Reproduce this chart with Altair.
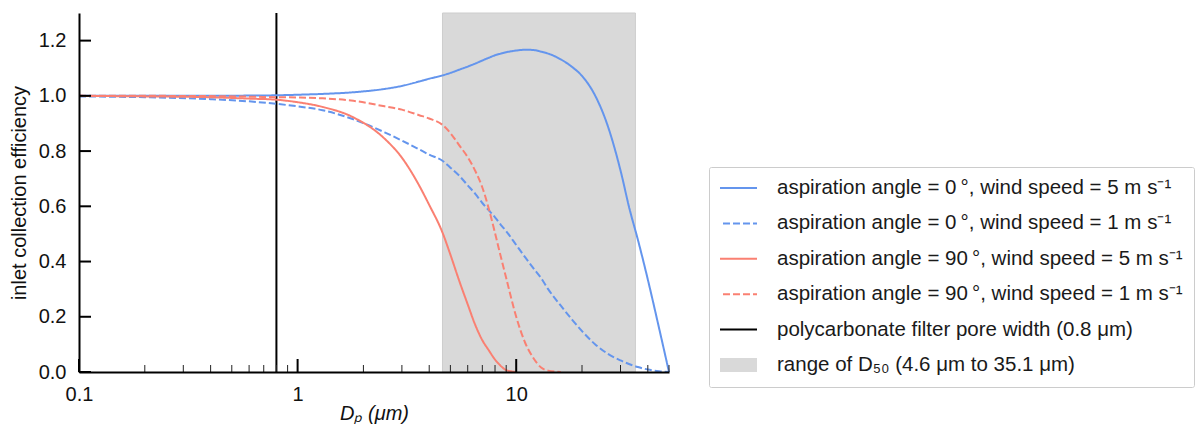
import altair as alt
import pandas as pd

FONT = "Liberation Sans"
FS = 20

# particle diameter grid (µm)
dp = [0.1, 0.2, 0.4, 0.6, 0.8, 1.0, 1.3, 1.8, 2.5, 3.0, 3.6, 4.0, 4.6, 5.0, 5.5, 6.0,
      6.5, 7.0, 7.5, 8.0, 8.5, 9.0, 10, 11, 12, 13, 14, 16, 18, 20, 23, 26, 30, 33,
      36, 40, 45, 50]

# aspiration angle 0°, wind 5 m/s
eff_0_5 = [1.000, 1.000, 1.000, 1.001, 1.002, 1.004, 1.007, 1.013, 1.025, 1.036, 1.052,
           1.062, 1.074, 1.083, 1.095, 1.106, 1.117, 1.128, 1.138, 1.147, 1.153, 1.158,
           1.164, 1.167, 1.166, 1.160, 1.153, 1.132, 1.105, 1.072, 1.000, 0.900, 0.730,
           0.590, 0.480, 0.335, 0.160, 0.000]
# aspiration angle 0°, wind 1 m/s
eff_0_1 = [0.998, 0.995, 0.988, 0.980, 0.971, 0.962, 0.948, 0.915, 0.868, 0.838, 0.806,
           0.787, 0.765, 0.740, 0.710, 0.676, 0.645, 0.612, 0.585, 0.560, 0.533, 0.510,
           0.460, 0.415, 0.375, 0.340, 0.300, 0.240, 0.190, 0.148, 0.100, 0.068, 0.042,
           0.028, 0.018, 0.009, 0.003, 0.000]
# aspiration angle 90°, wind 5 m/s
eff_90_5 = [1.000, 0.998, 0.995, 0.990, 0.986, 0.977, 0.960, 0.922, 0.845, 0.776, 0.675,
            0.605, 0.505, 0.425, 0.328, 0.245, 0.170, 0.115, 0.078, 0.045, 0.022, 0.007,
            0.000, 0.000, 0.000, 0.000, 0.000, 0.000, 0.000, 0.000, 0.000, 0.000, 0.000,
            0.000, 0.000, 0.000, 0.000, 0.000]
# aspiration angle 90°, wind 1 m/s
eff_90_1 = [1.000, 1.000, 0.999, 0.997, 0.995, 0.994, 0.991, 0.982, 0.962, 0.950, 0.930,
            0.918, 0.895, 0.865, 0.820, 0.778, 0.728, 0.668, 0.590, 0.503, 0.418, 0.340,
            0.200, 0.105, 0.050, 0.016, 0.005, 0.000, 0.000, 0.000, 0.000, 0.000, 0.000,
            0.000, 0.000, 0.000, 0.000, 0.000]

pore_width = 0.8
d50_range = [4.6, 35.1]

labels = [
    "aspiration angle = 0\u2009°, wind speed = 5 m s⁻¹",
    "aspiration angle = 0\u2009°, wind speed = 1 m s⁻¹",
    "aspiration angle = 90\u2009°, wind speed = 5 m s⁻¹",
    "aspiration angle = 90\u2009°, wind speed = 1 m s⁻¹",
    "polycarbonate filter pore width (0.8 μm)",
    "range of D₅₀ (4.6 μm to 35.1 μm)",
]
colors = ["#6495ED", "#6495ED", "#FA8072", "#FA8072", "#000000", "#D9D9D9"]
dashes = [[1, 0], [7, 3], [1, 0], [7, 3], [1, 0], [1, 0]]

x_major_ticks = [0.1, 1, 10]
x_minor_ticks = [0.2, 0.3, 0.4, 0.5, 0.6, 0.7, 0.8, 0.9, 2, 3, 4, 5, 6, 7, 8, 9,
                 20, 30, 40, 50]
y_ticks = [0.0, 0.2, 0.4, 0.6, 0.8, 1.0, 1.2]

rows = []
for name, vals in zip(labels[:4], [eff_0_5, eff_0_1, eff_90_5, eff_90_1]):
    for d, v in zip(dp, vals):
        rows.append({"dp": d, "eff": v, "series": name})
        if v == 0:
            break
df_lines = pd.DataFrame(rows)
df_rule = pd.DataFrame({"dp": [pore_width], "series": [labels[4]]})
df_rect = pd.DataFrame({"lo": [d50_range[0]], "hi": [d50_range[1]], "series": [labels[5]]})
df_xmaj = pd.DataFrame({"t": x_major_ticks})
df_xmin = pd.DataFrame({"t": x_minor_ticks})
df_y = pd.DataFrame({"t": y_ticks})

x_scale = alt.Scale(type="log", domain=[0.1, 50], nice=False)
y_scale = alt.Scale(domain=[0, 1.3], nice=False)
color_scale = alt.Scale(domain=labels, range=colors)
dash_scale = alt.Scale(domain=labels, range=dashes)

X_TITLE = "Dₚ (μm)"
Y_TITLE = "inlet collection efficiency"

x_axis = alt.Axis(
    values=x_major_ticks, format="~g", ticks=False, labelPadding=12,
    domainColor="black", domainWidth=2,
    labelFontSize=FS, labelFont=FONT, labelColor="#111111", labelOverlap=False,
    labelFlush=False, titleFontSize=FS, titleFont=FONT, titleFontWeight="normal",
    titleFontStyle="italic", titleColor="#111111", titleY=47,
    titleBaseline="alphabetic", grid=False, zindex=1,
)
y_axis = alt.Axis(
    values=y_ticks, format=".1f", ticks=False, labelPadding=13,
    domainColor="black", domainWidth=2, labelFontSize=FS,
    labelFont=FONT, labelColor="#111111", titleFontSize=FS, titleFont=FONT,
    titleFontWeight="normal", titleColor="#111111", titleX=-54,
    titleBaseline="alphabetic", grid=False, zindex=1,
)

legend = alt.Legend(
    title=None, orient="none", legendX=630, legendY=154, symbolType="stroke",
    symbolSize=1936,
    symbolStrokeWidth=alt.ExprRef(expr="(datum.index === 5 ? 14 : 2)"),
    clipHeight=20, rowPadding=14.4, padding=11,
    labelFontSize=20.5, labelFont=FONT, labelColor="#1a1a1a", labelLimit=700,
    labelOffset=19, symbolOffset=-8, strokeColor="#cccccc", fillColor="white",
    cornerRadius=2,
)

rect = alt.Chart(df_rect).mark_rect(stroke="#cdcdcd", strokeWidth=1).encode(
    x=alt.X("lo:Q", scale=x_scale, axis=x_axis, title=X_TITLE),
    x2="hi:Q",
    color=alt.Color("series:N", scale=color_scale, legend=legend),
)
rule = alt.Chart(df_rule).mark_rule(strokeWidth=2).encode(
    x=alt.X("dp:Q", scale=x_scale, axis=x_axis, title=X_TITLE),
    color=alt.Color("series:N", scale=color_scale, legend=legend),
)
lines = alt.Chart(df_lines).mark_line(strokeWidth=2, interpolate="monotone").encode(
    x=alt.X("dp:Q", scale=x_scale, axis=x_axis, title=X_TITLE),
    y=alt.Y("eff:Q", scale=y_scale, axis=y_axis, title=Y_TITLE),
    color=alt.Color("series:N", scale=color_scale, legend=legend),
    strokeDash=alt.StrokeDash("series:N", scale=dash_scale, legend=legend),
)
xmaj = alt.Chart(df_xmaj).mark_rule(strokeWidth=2, color="black").encode(
    x=alt.X("t:Q", scale=x_scale, axis=x_axis, title=X_TITLE),
    y=alt.value(359), y2=alt.value(346),
)
xmin = alt.Chart(df_xmin).mark_rule(strokeWidth=1, color="#222222").encode(
    x=alt.X("t:Q", scale=x_scale, axis=x_axis, title=X_TITLE),
    y=alt.value(359), y2=alt.value(352),
)
ytk = alt.Chart(df_y).mark_rule(strokeWidth=2, color="black").encode(
    y=alt.Y("t:Q", scale=y_scale, axis=y_axis, title=Y_TITLE),
    x=alt.value(0), x2=alt.value(12),
)

chart = alt.layer(rect, rule, lines, xmaj, xmin, ytk).properties(
    width=590, height=359,
    autosize=alt.AutoSizeParams(type="none"),
    padding={"left": 71, "top": 5, "right": 526, "bottom": 52},
    background="white",
).configure_view(strokeWidth=0)

chart.save("out.html", embed_options={"renderer": "svg", "actions": False})
